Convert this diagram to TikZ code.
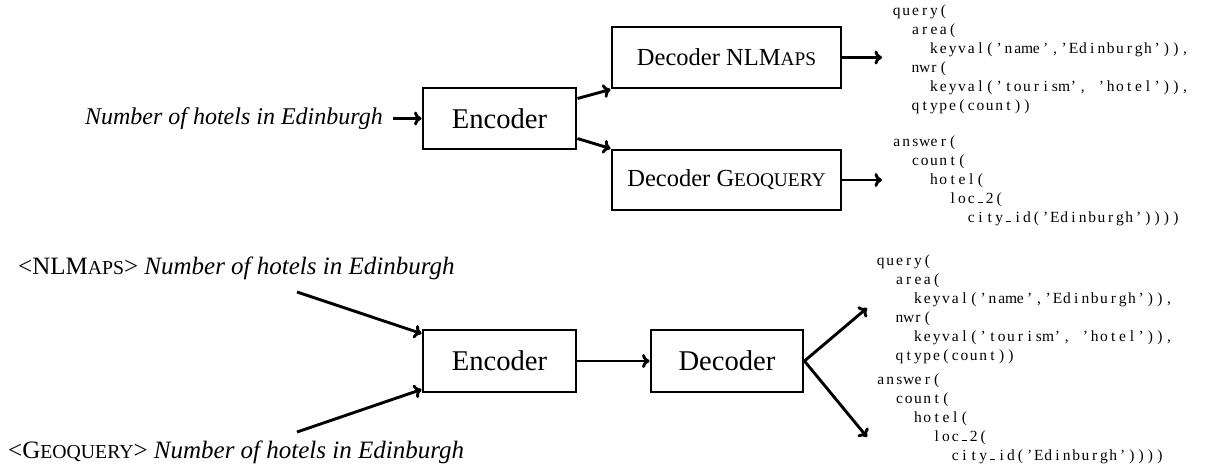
\documentclass[tikz,border=0pt]{standalone}
\usepackage{fontspec}
\setmainfont{Liberation Serif}
\usetikzlibrary{arrows.meta,calc}
\newlength\cw \setlength\cw{9.3pt}
\def\cellloop#1{\ifx#1\relax\else\makebox[\cw][c]{#1}\expandafter\cellloop\fi}
\newcommand\codeln[1]{\cellloop#1\relax}
\newcommand\smcp[1]{\scalebox{0.79}{#1}}
\newcommand\us{\rule[0.1ex]{0.32em}{0.07em}}
\begin{document}
\begin{tikzpicture}[x=1pt,y=-1pt,
  box/.style={draw,line width=2.9pt,inner sep=0pt},
  arr/.style={line width=2.9pt,-{To[length=7.5pt,width=14pt]}},
  code/.style={anchor=west,align=left,inner sep=0pt,font=\fontsize{15.5}{19}\selectfont},
  big/.style={font=\fontsize{28.6}{32}\selectfont},
  mid/.style={font=\fontsize{24.5}{28}\selectfont},
  lab/.style={inner sep=0pt,font=\fontsize{24}{28}\selectfont},
  labb/.style={inner sep=0pt,font=\fontsize{25}{28}\selectfont}]
\useasboundingbox (0,0) rectangle (1206,475);
% top
\node[box,big,minimum width=153pt,minimum height=61pt] (enc1) at (499.5,118.5) {Encoder};
\node[box,mid,minimum width=229pt,minimum height=61pt] (dec1) at (726.5,57.5) {Decoder NLM\smcp{APS}};
\node[box,mid,minimum width=229pt,minimum height=60pt] (dec2) at (726.5,180) {Decoder G\smcp{EOQUERY}};
\node[lab,anchor=east] (in1) at (383,118.5) {\itshape Number of hotels in Edinburgh};
\draw[arr,shorten <=10pt] (in1.east) -- (in1.east -| enc1.west);
\draw[arr] ([yshift=20pt]enc1.east) -- (dec1.south west);
\draw[arr] ([yshift=-20pt]enc1.east) -- (dec2.north west);
\node[code] (c1) at (892,59.5) {\codeln{query(}\\
\codeln{~~area(}\\
\codeln{~~~~keyval('name','Edinburgh')),}\\
\codeln{~~nwr(}\\
\codeln{~~~~keyval('tourism',~'hotel')),}\\
\codeln{~~qtype(count))}};
\node[code] (c2) at (892,181) {\codeln{answer(}\\
\codeln{~~count(}\\
\codeln{~~~~hotel(}\\
\codeln{~~~~~~loc\us2(}\\
\codeln{~~~~~~~~city\us id('Edinburgh'))))}};
\draw[arr,shorten >=10pt] (dec1.east) -- (dec1.east -| c1.west);
\draw[arr,shorten >=10pt] (dec2.east) -- (dec2.east -| c2.west);
% bottom
\node[labb,anchor=west] (in2) at (18,268) {<NLM\smcp{APS}> \itshape Number of hotels in Edinburgh};
\node[labb,anchor=west] (in3) at (8,452) {<G\smcp{EOQUERY}> \itshape Number of hotels in Edinburgh};
\node[box,big,minimum width=153pt,minimum height=62pt] (enc2) at (499.5,361) {Encoder};
\node[box,big,minimum width=152pt,minimum height=62pt] (dec3) at (727,361) {Decoder};
\coordinate (s1) at (297,292);
\coordinate (s2) at (297,432);
\draw[arr] (s1) -- ([yshift=-5pt]enc2.north west);
\draw[arr] (s2) -- ([yshift=4pt]enc2.south west);
\draw[arr] (enc2) -- (dec3);
\coordinate (t1) at (867,308);
\coordinate (t2) at (867,437);
\draw[arr] (dec3.east) -- (t1);
\draw[arr] (dec3.east) -- (t2);
\node[code] (c3) at (876,309.5) {\codeln{query(}\\
\codeln{~~area(}\\
\codeln{~~~~keyval('name','Edinburgh')),}\\
\codeln{~~nwr(}\\
\codeln{~~~~keyval('tourism',~'hotel')),}\\
\codeln{~~qtype(count))}};
\node[code] (c4) at (876,419) {\codeln{answer(}\\
\codeln{~~count(}\\
\codeln{~~~~hotel(}\\
\codeln{~~~~~~loc\us2(}\\
\codeln{~~~~~~~~city\us id('Edinburgh'))))}};
\end{tikzpicture}
\end{document}
